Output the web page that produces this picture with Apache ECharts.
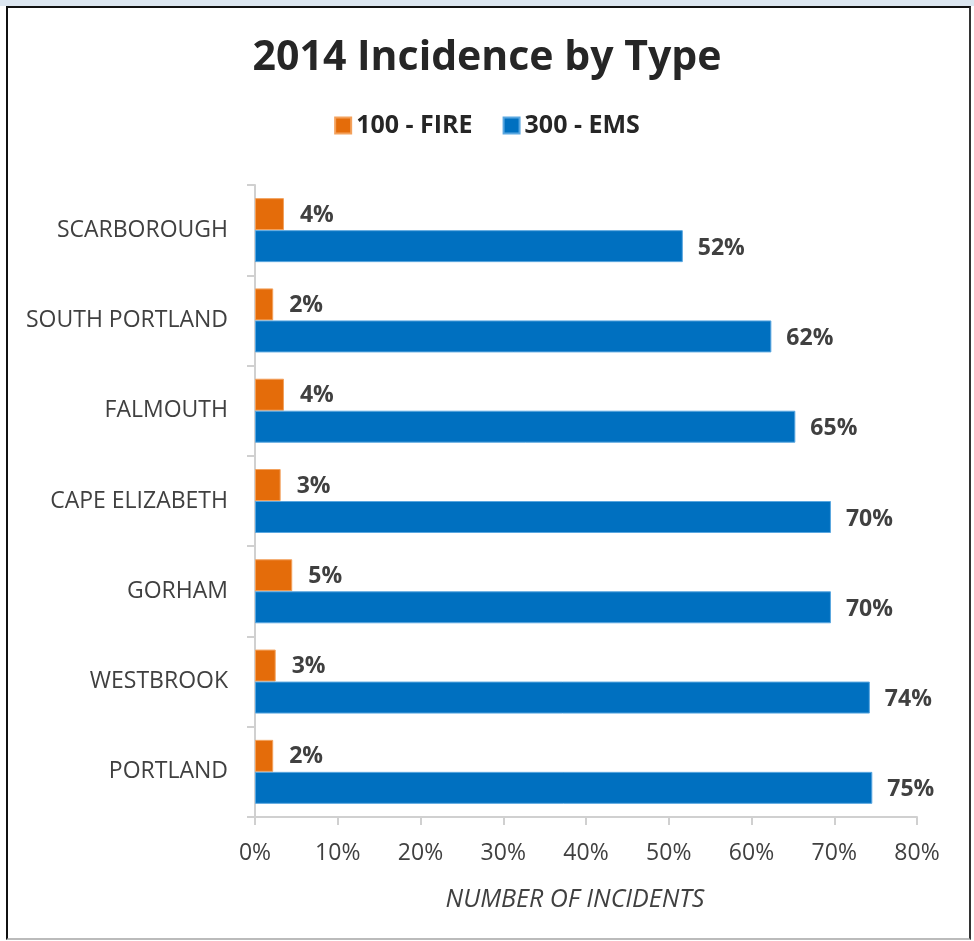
<!DOCTYPE html>
<html>
<head>
<meta charset="utf-8">
<script src="https://cdn.jsdelivr.net/npm/echarts@6/dist/echarts.min.js"></script>
<style>
html,body{margin:0;padding:0;background:#fff;}
#wrap{position:relative;width:974px;height:941px;overflow:hidden;background:#fff;}
#topstrip{position:absolute;left:0;top:0;width:974px;height:6px;background:#dce6f0;}
#chart{position:absolute;left:0;top:0;width:974px;height:941px;}
#frame{position:absolute;left:6px;top:6px;width:961px;height:930px;border-left:2px solid #111;border-top:2px solid #111;border-right:2px solid #333;border-bottom:2px solid #bbb;pointer-events:none;}
</style>
</head>
<body>
<div id="wrap">
<div id="topstrip"></div>
<div id="chart"></div>
<div id="frame"></div>
</div>
<script>
const categories = ['SCARBOROUGH','SOUTH PORTLAND','FALMOUTH','CAPE ELIZABETH','GORHAM','WESTBROOK','PORTLAND'];
const fireValues = [3.5, 2.2, 3.5, 3.1, 4.5, 2.5, 2.2];
const emsValues  = [51.7, 62.4, 65.3, 69.6, 69.6, 74.3, 74.6];
const seriesNames = ['100 - FIRE', '300 - EMS'];
const xTicks = [0, 10, 20, 30, 40, 50, 60, 70, 80];

const FONT = 'Open Sans';
const chart = echarts.init(document.getElementById('chart'), null, {renderer:'canvas'});
const labelFmt = p => Math.round(p.value) + '%';
chart.setOption({
  animation: false,
  backgroundColor: 'transparent',
  title: {
    text: '2014 Incidence by Type',
    left: 'center', top: 33,
    textStyle: {fontFamily: FONT, fontSize: 41, fontWeight: 'bold', color: '#262626'}
  },
  legend: {
    top: 108, left: 'center',
    itemWidth: 16, itemHeight: 16, itemGap: 30,
    icon: 'rect',
    textStyle: {fontFamily: FONT, fontSize: 25, fontWeight: 'bold', color: '#262626'},
    data: seriesNames
  },
  grid: {left: 255, right: 57, top: 185, bottom: 124, containLabel: false},
  xAxis: {
    type: 'value', min: xTicks[0], max: xTicks[xTicks.length-1], interval: 10,
    axisLine: {show: true, lineStyle: {color: '#d0d0d0', width: 2}},
    axisTick: {show: true, length: 8, lineStyle: {color: '#d0d0d0', width: 2}},
    splitLine: {show: false},
    axisLabel: {formatter: v => v + '%', fontFamily: FONT, fontSize: 23, color: '#404040', margin: 25},
    name: 'NUMBER OF INCIDENTS', nameLocation: 'middle', nameGap: 70,
    nameTextStyle: {fontFamily: FONT, fontSize: 25, fontStyle: 'italic', color: '#404040', padding: [0, 22, 0, 0]}
  },
  yAxis: {
    type: 'category', data: categories, inverse: true,
    axisLine: {show: true, lineStyle: {color: '#d0d0d0', width: 2}},
    axisTick: {show: true, length: 8, lineStyle: {color: '#d0d0d0', width: 2}},
    axisLabel: {fontFamily: FONT, fontSize: 23, color: '#404040', margin: 27, padding: [3, 0, 0, 0]}
  },
  series: [
    {
      name: seriesNames[0], type: 'bar', data: fireValues,
      barWidth: 32, barGap: '0%',
      itemStyle: {color: '#e46c0a', borderColor: '#f3a15c', borderWidth: 1},
      label: {show: true, position: 'right', distance: 16, offset: [0, 1], formatter: labelFmt,
        fontFamily: FONT, fontSize: 23, fontWeight: 'bold', color: '#404040'}
    },
    {
      name: seriesNames[1], type: 'bar', data: emsValues,
      barWidth: 32, barGap: '0%',
      itemStyle: {color: '#0070c0', borderColor: '#5aa7e0', borderWidth: 1},
      label: {show: true, position: 'right', distance: 15, offset: [0, 2], formatter: labelFmt,
        fontFamily: FONT, fontSize: 23, fontWeight: 'bold', color: '#404040'}
    }
  ]
});
</script>
</body>
</html>
